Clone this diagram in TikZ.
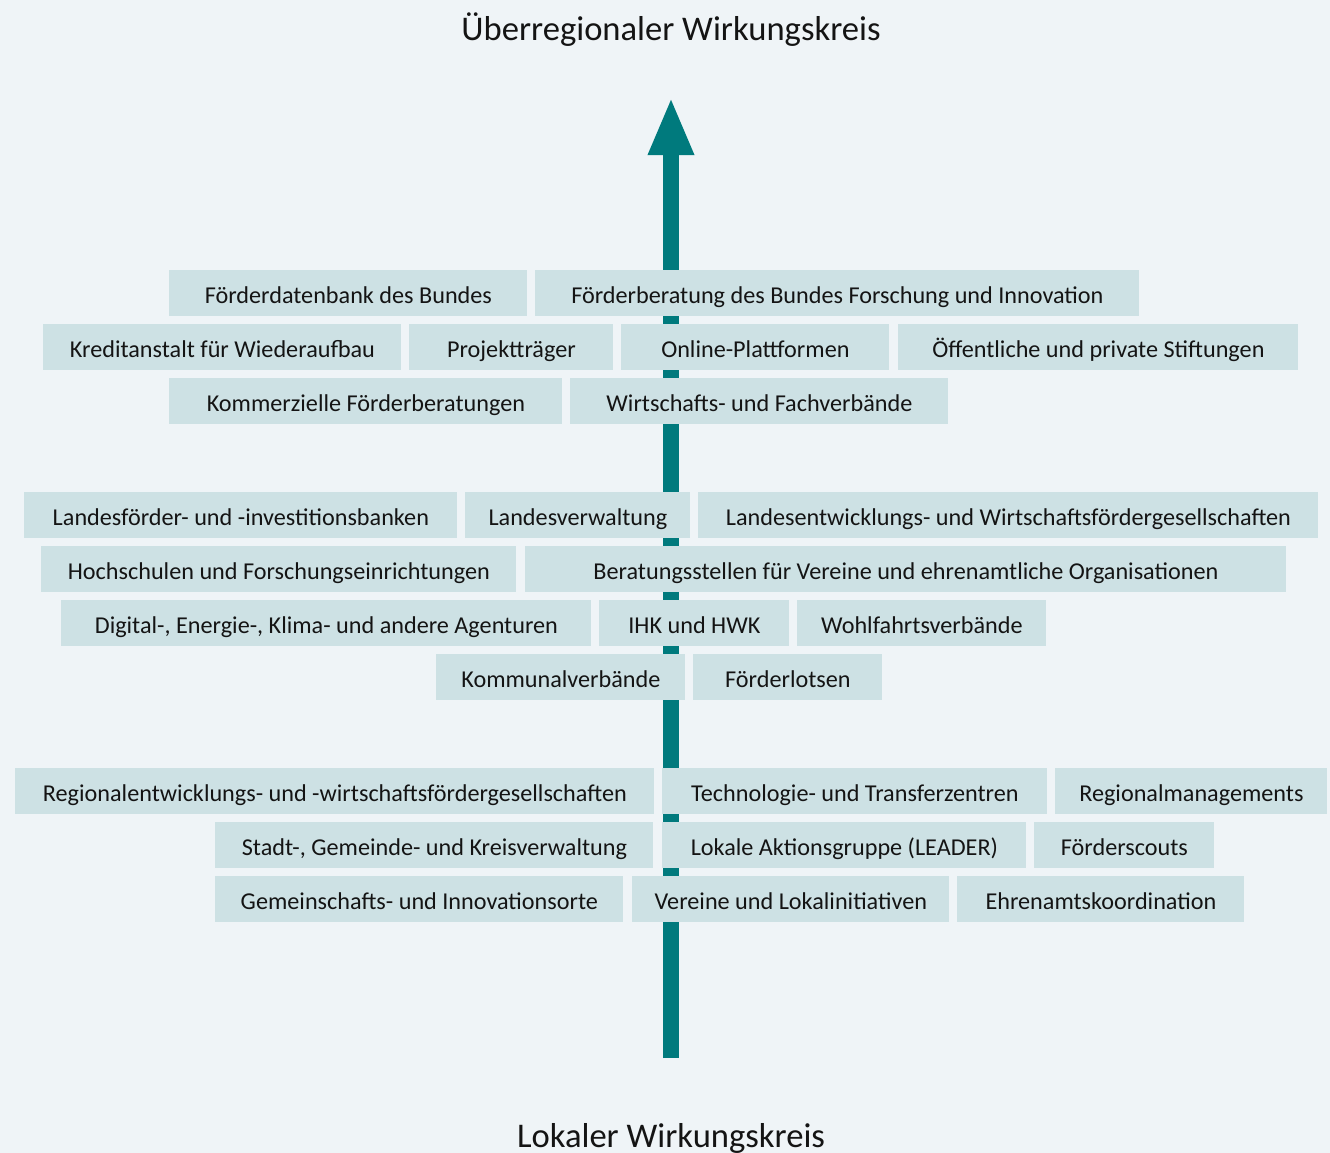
\documentclass[tikz,border=0pt]{standalone}
\usepackage{fontspec}
\setmainfont{Carlito}
\usetikzlibrary{arrows.meta}
\definecolor{hintergrund}{HTML}{EFF4F7}
\definecolor{kastenfarbe}{HTML}{CDE1E4}
\definecolor{petrol}{HTML}{007A7D}
\begin{document}
\begin{tikzpicture}[x=0.5pt,y=-0.5pt,
    kasten/.style={fill=kastenfarbe, anchor=north west, inner sep=0pt,
      minimum height=23pt, text height=10pt, text depth=0pt,
      font=\fontsize{12.1}{14}\selectfont, text=black!92},
    titel/.style={anchor=base, font=\fontsize{17.3}{20}\selectfont, text=black!92}]
  \fill[hintergrund] (0,0) rectangle (1330,1153);
  \useasboundingbox (0,0) rectangle (1330,1153);
  % Pfeil von lokal nach ueberregional
  \coordinate (lokal) at (671,1058);
  \coordinate (ueber) at (671,97);
  \draw[petrol, line width=8pt, -{Triangle[length=29pt,width=21pt]}] (lokal) -- (ueber);
  \node[titel] (ueberregional) at (671,40) {Überregionaler Wirkungskreis};
  \node[titel] (lokalkreis) at (671,1147) {Lokaler Wirkungskreis};
  % Kaesten: Name / links / rechts / oben / Text
  \foreach \nm/\xa/\xb/\ya/\txt in {
      fdb/169/527/270/{Förderdatenbank des Bundes},
      fbfi/535/1139/270/{Förderberatung des Bundes Forschung und Innovation},
      kfw/43/401/324/{Kreditanstalt für Wiederaufbau},
      ptr/409/613/324/{Projektträger},
      olp/621/889/324/{Online-Plattformen},
      stift/898/1298/324/{Öffentliche und private Stiftungen},
      kfb/169/562/378/{Kommerzielle Förderberatungen},
      wfv/570/948/378/{Wirtschafts- und Fachverbände},
      lfib/24/457/492/{Landesförder- und -investitionsbanken},
      lverw/465/690/492/{Landesverwaltung},
      lewg/698/1318/492/{Landesentwicklungs- und Wirtschaftsfördergesellschaften},
      hsfe/41/516/546/{Hochschulen und Forschungseinrichtungen},
      bvo/525/1286/546/{Beratungsstellen für Vereine und ehrenamtliche Organisationen},
      agent/61/591/600/{Digital-, Energie-, Klima- und andere Agenturen},
      ihk/599/789/600/{IHK und HWK},
      wohlf/797/1046/600/{Wohlfahrtsverbände},
      kverb/436/685/654/{Kommunalverbände},
      flot/693/882/654/{Förderlotsen},
      rewg/15/654/768/{Regionalentwicklungs- und -wirtschaftsfördergesellschaften},
      tzentr/662/1047/768/{Technologie- und Transferzentren},
      rmgmt/1055/1327/768/{Regionalmanagements},
      verw/215/653/822/{Stadt-, Gemeinde- und Kreisverwaltung},
      leader/662/1026/822/{Lokale Aktionsgruppe (LEADER)},
      fscout/1034/1214/822/{Förderscouts},
      gio/215/623/876/{Gemeinschafts- und Innovationsorte},
      verein/632/949/876/{Vereine und Lokalinitiativen},
      ehrenamt/957/1244/876/{Ehrenamtskoordination}}
    \node[kasten, minimum width={(\xb-\xa)*0.5pt}] (\nm) at (\xa,\ya) {\txt};
\end{tikzpicture}
\end{document}
